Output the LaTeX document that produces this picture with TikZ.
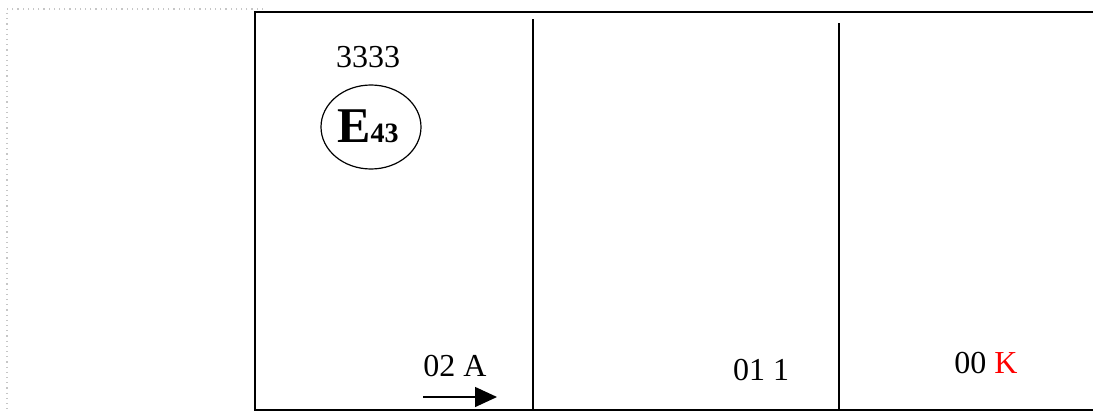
\documentclass[tikz,border=0pt]{standalone}
\usepackage{fontspec}
\setmainfont{Liberation Serif}
\usetikzlibrary{arrows.meta,shapes.geometric}

\begin{document}
\begin{tikzpicture}[x=0.5pt, y=-0.5pt]
    % Styles
    \tikzstyle{frame} = [line width=0.75pt, black]
    \tikzstyle{guide} = [gray!45, dotted, line width=0.6pt]
    \tikzstyle{field} = [anchor=base, inner sep=0pt, font=\fontsize{16}{18}\selectfont]
    \tikzstyle{stamp} = [ellipse, draw=black, line width=0.6pt, minimum width=50pt, minimum height=42pt, inner sep=0pt]
    \tikzstyle{arrow} = [-{Triangle[length=11pt, width=10pt]}, line width=0.75pt]

    \useasboundingbox (0,0) rectangle (1093,412);

    % Guides
    \draw[guide] (263,9) -- (7,9) -- (7,412);

    % Frame
    \draw[frame, line width=1pt] (1093,12) -- (255,12) -- (255,410) -- (1093,410);
    \draw[frame] (533,19) -- (533,410);
    \draw[frame] (839,23) -- (839,410);

    % Nodes
    \node[field] (code) at (368,68) {3333};
    \node[stamp] (emark) at (371,127) {};
    \node[anchor=base, inner sep=0pt] (elabel) at (368,142)
        {\fontsize{25}{28}\selectfont\bfseries E\fontsize{14}{16}\selectfont 43};
    \node[field] (cellA) at (455,376) {02 A};
    \node[field] (cellB) at (761,380) {01 1};
    \node[field] (cellC) at (986,373) {00 \textcolor{red}{K}};

    % Arrow
    \coordinate (tail) at (423,397);
    \coordinate (head) at (497,397);
    \draw[arrow] (tail) -- (head);
\end{tikzpicture}
\end{document}
